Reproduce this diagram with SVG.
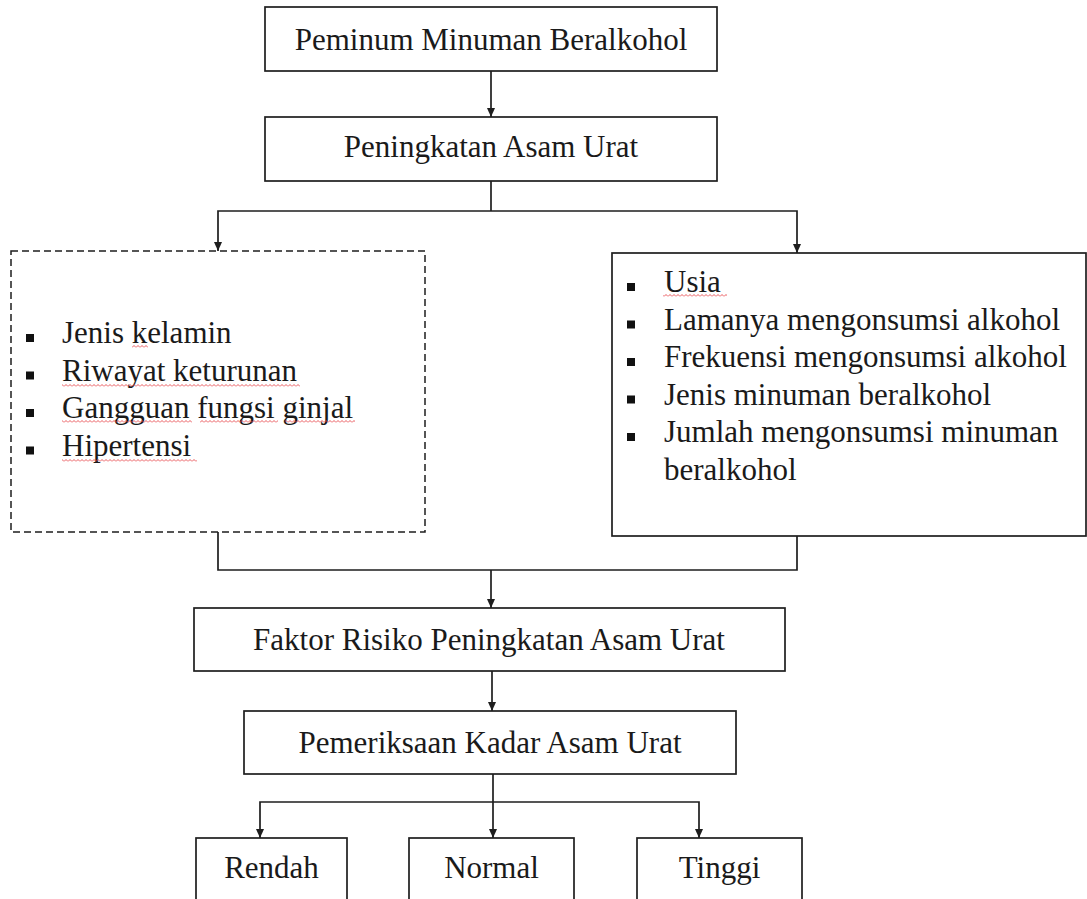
<svg xmlns="http://www.w3.org/2000/svg" width="1087" height="899" viewBox="0 0 1087 899">
<style>
.box{fill:#fff;stroke:#1e1e1e;stroke-width:1.7}
.dash{fill:#fff;stroke:#1e1e1e;stroke-width:1.5;stroke-dasharray:7 4}
.t{font-family:"Liberation Serif","Times New Roman",serif;font-size:31px;fill:#1a1a1a}
.c{text-anchor:middle}
.ln{fill:none;stroke:#1e1e1e;stroke-width:1.7}
.bul{fill:#111}
.sq{fill:url(#squig)}
</style>
<defs>
<marker id="ah" markerWidth="9" markerHeight="8" refX="9" refY="4" orient="auto-start-reverse" markerUnits="userSpaceOnUse" viewBox="0 0 9 8">
<path d="M0,0 L9,4 L0,8 Z" fill="#1e1e1e"/>
</marker>
<pattern id="squig" width="4" height="3" patternUnits="userSpaceOnUse">
<path d="M0,2.5 L2,0.5 L4,2.5" fill="none" stroke="#e8464c" stroke-width="0.9"/>
</pattern>
</defs>

<g id="connectors">
<line class="ln" x1="491" y1="71" x2="491" y2="117" marker-end="url(#ah)"/>
<polyline class="ln" points="491,181 491,211"/>
<polyline class="ln" points="218,251 218,211 797,211 797,253" marker-start="url(#ah)" marker-end="url(#ah)"/>
<polyline class="ln" points="218,532 218,570 797,570 797,536"/>
<line class="ln" x1="491" y1="570" x2="491" y2="608" marker-end="url(#ah)"/>
<line class="ln" x1="492" y1="671" x2="492" y2="711" marker-end="url(#ah)"/>
<line class="ln" x1="493" y1="774" x2="493" y2="838" marker-end="url(#ah)"/>
<polyline class="ln" points="260,838 260,802 699,802 699,838" marker-start="url(#ah)" marker-end="url(#ah)"/>
</g>

<g id="node-peminum">
<rect class="box" x="265" y="7" width="452" height="64"/>
<text class="t c" x="491" y="50">Peminum Minuman Beralkohol</text>
</g>

<g id="node-peningkatan">
<rect class="box" x="265" y="117" width="452" height="64"/>
<text class="t c" x="491" y="157">Peningkatan Asam Urat</text>
</g>

<g id="node-faktor-tidak">
<rect class="dash" x="11" y="251" width="414" height="281"/>
<rect class="bul" x="26" y="334" width="8" height="8"/>
<rect class="bul" x="26" y="371.5" width="8" height="8"/>
<rect class="bul" x="26" y="409" width="8" height="8"/>
<rect class="bul" x="26" y="446.5" width="8" height="8"/>
<text class="t" x="62" y="343">Jenis kelamin</text>
<text class="t" x="62" y="380.5">Riwayat keturunan</text>
<text class="t" x="62" y="418">Gangguan fungsi ginjal</text>
<text class="t" x="62" y="455.5">Hipertensi</text>
<rect class="sq" x="132" y="345" width="16" height="3"/>
<rect class="sq" x="62" y="384" width="238" height="3"/>
<rect class="sq" x="62" y="420" width="130" height="3"/>
<rect class="sq" x="200" y="420" width="78" height="3"/>
<rect class="sq" x="285" y="420" width="70" height="3"/>
<rect class="sq" x="62" y="459" width="135" height="3"/>
</g>

<g id="node-faktor-diteliti">
<rect class="box" x="612" y="253" width="474" height="283"/>
<rect class="bul" x="627" y="283" width="8" height="8"/>
<rect class="bul" x="627" y="320.5" width="8" height="8"/>
<rect class="bul" x="627" y="358" width="8" height="8"/>
<rect class="bul" x="627" y="395.5" width="8" height="8"/>
<rect class="bul" x="627" y="433" width="8" height="8"/>
<text class="t" x="664" y="292">Usia</text>
<text class="t" x="664" y="329.5">Lamanya mengonsumsi alkohol</text>
<text class="t" x="664" y="367">Frekuensi mengonsumsi alkohol</text>
<text class="t" x="664" y="404.5">Jenis minuman beralkohol</text>
<text class="t" x="664" y="442">Jumlah mengonsumsi minuman</text>
<text class="t" x="664" y="479.5">beralkohol</text>
<rect class="sq" x="663" y="294" width="64" height="3"/>
</g>

<g id="node-faktor-risiko">
<rect class="box" x="194" y="608" width="591" height="63"/>
<text class="t c" x="489" y="650">Faktor Risiko Peningkatan Asam Urat</text>
</g>

<g id="node-pemeriksaan">
<rect class="box" x="244" y="711" width="492" height="63"/>
<text class="t c" x="490" y="753">Pemeriksaan Kadar Asam Urat</text>
</g>

<g id="node-rendah">
<rect class="box" x="196" y="838" width="151" height="80"/>
<text class="t c" x="271.5" y="878">Rendah</text>
</g>

<g id="node-normal">
<rect class="box" x="409" y="838" width="165" height="80"/>
<text class="t c" x="491.5" y="878">Normal</text>
</g>

<g id="node-tinggi">
<rect class="box" x="637" y="838" width="165" height="80"/>
<text class="t c" x="719.5" y="878">Tinggi</text>
</g>
</svg>
